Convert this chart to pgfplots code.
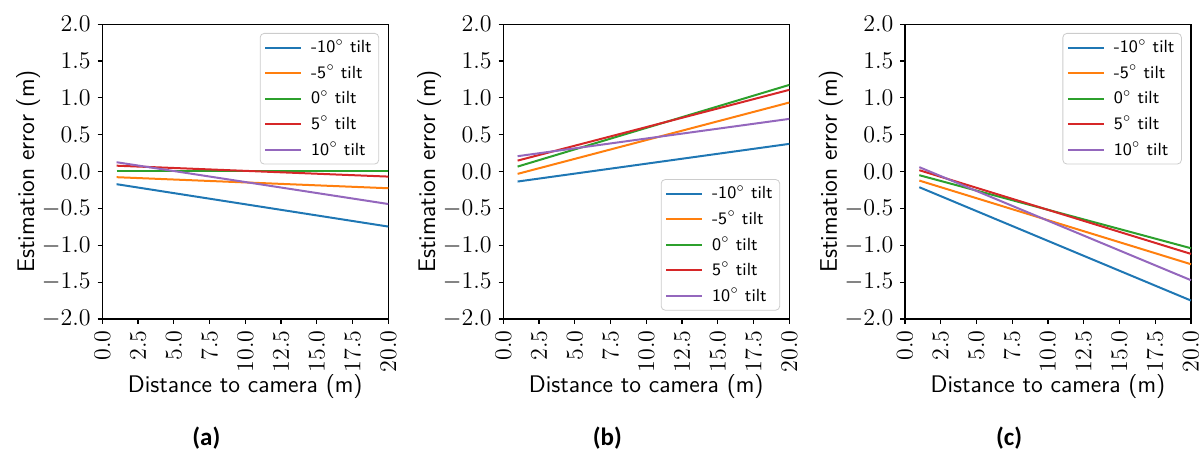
\documentclass[border=0pt]{standalone}
\usepackage{fontspec}
\usepackage{pgfplots}
\pgfplotsset{compat=1.18}
\newfontfamily\capfont{Carlito}
\definecolor{c1}{HTML}{1F77B4}
\definecolor{c2}{HTML}{FF7F0E}
\definecolor{c3}{HTML}{2CA02C}
\definecolor{c4}{HTML}{D62728}
\definecolor{c5}{HTML}{9467BD}
\pgfplotsset{
  panel/.style={
    scale only axis, width=143pt, height=147.4pt,
    xmin=0, xmax=20, ymin=-2, ymax=2,
    xtick distance=2.5, ytick distance=0.5,
    axis line style={line width=0.6pt},
    tick style={line width=0.6pt, black},
    tick align=outside, xtick pos=bottom, ytick pos=left,
    major tick length=2.3pt,
    xticklabel style={rotate=90, anchor=east, font=\fontsize{11.5}{12}\selectfont},
    yticklabel style={font=\fontsize{11.5}{12}\selectfont},
    /pgf/number format/.cd, fixed, fixed zerofill, precision=1, /pgfplots/.cd,
    xlabel={Distance to camera (m)},
    ylabel={Estimation error (m)},
    label style={font=\sffamily\fontsize{12}{14}\selectfont},
    xlabel style={at={(axis description cs:0.5,-0.228)}, anchor=center},
    ylabel style={at={(axis description cs:-0.259,0.5)}, anchor=center},
    clip=false,
    legend cell align=left,
    legend image code/.code={\draw[#1, line width=1pt] (0pt,0pt) -- (18pt,0pt);},
    legend style={draw=black!20, rounded corners=2pt, fill=white,
      font=\sffamily\fontsize{8.8}{10}\selectfont,
      inner xsep=2pt, inner ysep=1.5pt, row sep=1.6pt,
      nodes={inner sep=1.5pt},
      /tikz/every odd column/.append style={column sep=3pt}},
    every axis plot/.append style={line width=1pt},
  }
}
\begin{document}
\begin{tikzpicture}
\path[use as bounding box] (0,0) rectangle (600.5pt,226.5pt);
% (a)
\begin{axis}[panel, at={(51.15pt,67pt)}, anchor=south west,
  legend style={at={(axis description cs:1,1)}, anchor=north east, xshift=-4.6pt, yshift=-4.4pt}]
\addplot[c1] coordinates {(1,-0.171) (20,-0.746)};
\addplot[c2] coordinates {(1,-0.076) (20,-0.226)};
\addplot[c3] coordinates {(1,0.01) (20,0.01)};
\addplot[c4] coordinates {(1,0.08) (20,-0.068)};
\addplot[c5] coordinates {(1,0.127) (20,-0.44)};
\legend{-10$^\circ$ tilt, -5$^\circ$ tilt, 0$^\circ$ tilt, 5$^\circ$ tilt, 10$^\circ$ tilt}
\node[font=\capfont\bfseries\fontsize{12.5}{14}\selectfont] at (axis description cs:0.364,-0.405) {(a)};
\end{axis}
% (b)
\begin{axis}[panel, at={(251.65pt,67pt)}, anchor=south west,
  legend style={at={(axis description cs:1,0)}, anchor=south east, xshift=-4.6pt, yshift=4.2pt}]
\addplot[c1] coordinates {(1,-0.135) (20,0.376)};
\addplot[c2] coordinates {(1,-0.031) (20,0.937)};
\addplot[c3] coordinates {(1,0.068) (20,1.176)};
\addplot[c4] coordinates {(1,0.149) (20,1.109)};
\addplot[c5] coordinates {(1,0.209) (20,0.715)};
\legend{-10$^\circ$ tilt, -5$^\circ$ tilt, 0$^\circ$ tilt, 5$^\circ$ tilt, 10$^\circ$ tilt}
\node[font=\capfont\bfseries\fontsize{12.5}{14}\selectfont] at (axis description cs:0.364,-0.405) {(b)};
\end{axis}
% (c)
\begin{axis}[panel, at={(452.5pt,67pt)}, anchor=south west,
  legend style={at={(axis description cs:1,1)}, anchor=north east, xshift=-4.6pt, yshift=-4.4pt}]
\addplot[c1] coordinates {(1,-0.212) (20,-1.75)};
\addplot[c2] coordinates {(1,-0.122) (20,-1.257)};
\addplot[c3] coordinates {(1,-0.049) (20,-1.04)};
\addplot[c4] coordinates {(1,0.019) (20,-1.117)};
\addplot[c5] coordinates {(1,0.06) (20,-1.474)};
\legend{-10$^\circ$ tilt, -5$^\circ$ tilt, 0$^\circ$ tilt, 5$^\circ$ tilt, 10$^\circ$ tilt}
\node[font=\capfont\bfseries\fontsize{12.5}{14}\selectfont] at (axis description cs:0.364,-0.405) {(c)};
\end{axis}
\end{tikzpicture}
\end{document}
